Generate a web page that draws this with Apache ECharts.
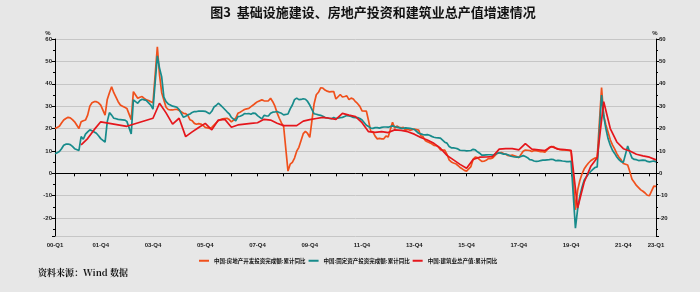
<!DOCTYPE html>
<html>
<head>
<meta charset="utf-8">
<script src="https://cdn.jsdelivr.net/npm/echarts@6/dist/echarts.min.js"></script>
<style>
html,body{margin:0;padding:0;background:#e7e7e7;}
#c{width:700px;height:292px;}
</style>
</head>
<body>
<div id="c"></div>
<script>
// ---- categories: monthly, 2000-03 .. 2023-03 ----
const months = [];
for (let y = 2000; y <= 2023; y++) {
  for (let m = 1; m <= 12; m++) {
    if (y === 2000 && m < 3) continue;
    if (y === 2023 && m > 3) break;
    months.push(y + '-' + String(m).padStart(2, '0'));
  }
}

const seriesNames = ['中国:房地产开发投资完成额:累计同比', '中国:固定资产投资完成额:累计同比', '中国:建筑业总产值:累计同比'];

// 房地产开发投资完成额 累计同比 (%), monthly, Jan merged into Feb (null)
const realEstate = [
  20, 20.5, 21, 22.5, 23.8, 24.5, 25, 24.8, 24, 23,
  null, 20, 23, 23.5, 23.8, 26, 30, 31.5, 32, 32, 31.5, 30.5,
  null, 26, 33, 36, 38.7, 36, 34, 32, 30.5, 30, 29.5, 29,
  null, 24, 36.5, 35, 33.5, 34, 34.3, 33.5, 32.8, 32.5, 32, 31.5,
  null, 56.5, 44, 36, 32.8, 29.5, 28.5, 28.3, 28.3, 28.5, 28.6, 28.1,
  null, 26.8, 26.7, 25.9, 23.9, 23.5, 22.3, 21.9, 22.2, 22, 21.4, 20.5,
  null, 20, 20.5, 21.5, 22.5, 23.5, 24, 24.3, 24.5, 24.6, 24, 23,
  null, 24.6, 26.8, 27.3, 27.9, 28.5, 28.8, 29, 29.8, 30.5, 31.3, 32,
  null, 32.8, 32.4, 32.3, 32.4, 33.5, 32, 30, 27, 24.6, 22.5, 20.9,
  null, 1.0, 4.1, 4.9, 6.8, 9.9, 11.6, 14.7, 17.7, 18.7, 17.8, 16.1,
  null, 31.1, 35.1, 36.2, 38.2, 38.1, 37.2, 36.7, 36.4, 36.5, 36.5, 33.2,
  null, 35.2, 34.1, 34.3, 34.6, 32.9, 33.6, 33.2, 32.0, 31.1, 29.9, 27.9,
  null, 27.8, 23.5, 18.7, 18.5, 16.6, 15.4, 15.6, 15.4, 15.4, 16.7, 16.2,
  null, 22.8, 20.2, 21.1, 20.6, 20.3, 20.5, 19.3, 19.7, 19.2, 19.5, 19.8,
  null, 19.3, 16.8, 16.4, 14.7, 14.1, 13.7, 13.2, 12.5, 12.4, 11.9, 10.5,
  null, 10.4, 8.5, 6.0, 5.1, 4.6, 4.3, 3.5, 2.6, 2.0, 1.3, 1.0,
  null, 3.0, 6.2, 7.2, 7.0, 6.1, 5.3, 5.4, 5.8, 6.6, 6.5, 6.9,
  null, 8.9, 9.1, 9.3, 8.8, 8.5, 7.9, 7.9, 8.1, 7.8, 7.5, 7.0,
  null, 9.9, 10.4, 10.3, 10.2, 9.7, 10.2, 10.1, 9.9, 9.7, 9.7, 9.5,
  null, 11.6, 11.8, 11.9, 11.2, 10.9, 10.6, 10.5, 10.5, 10.3, 10.2, 9.9,
  null, -16.3, -7.7, -3.3, -0.3, 1.9, 3.4, 4.6, 5.6, 6.3, 6.8, 7.0,
  null, 38.3, 25.6, 21.6, 18.3, 15.0, 12.7, 10.9, 8.8, 7.2, 6.0, 4.4,
  null, 3.7, 0.7, -2.7, -4.0, -5.4, -6.4, -7.4, -8.0, -8.8, -9.8, -10.0,
  null, -5.7, -5.8
];

// 固定资产投资完成额 累计同比 (%), monthly
const fixedAsset = [
  8.7, 9.2, 9.7, 11, 12.5, 13, 13.1, 12.8, 12, 11,
  null, 10.2, 16.4, 15.2, 17.5, 18.5, 19.4, 19, 18.5, 17.9, 16.8, 15.5,
  null, 13.9, 23.1, 27.1, 26, 24.6, 24.4, 24.1, 24, 23.9, 23.8, 23.2,
  null, 17.6, 32.8, 32, 31.3, 32.5, 33.1, 32.8, 32.5, 31.5, 30.5, 28.7,
  null, 52.5, 47, 43, 34, 32, 31, 30.5, 30, 29.8, 29.5, 28.5,
  null, 25, 25.5, 26.1, 26.5, 27.2, 27.6, 27.6, 27.8, 27.8, 27.8, 27.7,
  null, 26.6, 27.7, 29.6, 30.3, 31.3, 30.5, 29.5, 28.5, 27.5, 26.6, 25,
  null, 23.4, 25.3, 25.5, 25.9, 26.7, 26.6, 26.7, 26.4, 26.9, 26.8, 25.8,
  null, 24.3, 25.9, 25.7, 25.6, 26.8, 27.3, 27.4, 27.6, 27.2, 26.8, 26.1,
  null, 26.5, 28.8, 30.5, 32.9, 33.6, 32.9, 33.0, 33.3, 33.1, 32.1, 30.5,
  null, 26.6, 26.4, 26.1, 25.9, 25.5, 24.9, 24.8, 24.5, 24.4, 24.9, 24.5,
  null, 24.9, 25.0, 25.4, 25.8, 25.6, 25.4, 25.0, 24.9, 24.9, 24.5, 23.8,
  null, 21.5, 20.9, 20.2, 20.1, 20.4, 20.4, 20.2, 20.5, 20.7, 20.7, 20.6,
  null, 21.2, 20.9, 20.6, 20.4, 20.1, 20.1, 20.3, 20.2, 20.1, 19.9, 19.6,
  null, 17.9, 17.6, 17.3, 17.2, 17.3, 17.0, 16.5, 16.1, 15.9, 15.8, 15.7,
  null, 13.9, 13.5, 12.0, 11.4, 11.4, 11.2, 10.9, 10.3, 10.2, 10.2, 10.0,
  null, 10.2, 10.7, 10.5, 9.6, 9.0, 8.1, 8.1, 8.2, 8.3, 8.3, 8.1,
  null, 8.9, 9.2, 8.9, 8.6, 8.6, 8.3, 7.8, 7.5, 7.3, 7.2, 7.2,
  null, 7.9, 7.5, 7.0, 6.1, 6.0, 5.5, 5.3, 5.4, 5.7, 5.9, 5.9,
  null, 6.1, 6.3, 6.1, 5.6, 5.8, 5.7, 5.5, 5.4, 5.2, 5.2, 5.4,
  null, -24.5, -16.1, -10.3, -6.3, -3.1, -1.6, -0.3, 0.8, 1.8, 2.6, 2.9,
  null, 35.0, 25.6, 19.9, 15.4, 12.6, 10.3, 8.9, 7.3, 6.1, 5.2, 4.9,
  null, 12.2, 9.3, 6.8, 6.2, 6.1, 5.7, 5.8, 5.9, 5.8, 5.3, 5.1,
  null, 5.5, 5.1
];

// 建筑业总产值 累计同比 (%), quarterly (annual early on)
const constructionDates = [
  '2001-03','2001-06','2001-09','2001-12','2002-12','2003-12',
  '2004-03','2004-06','2004-09','2004-12','2005-03','2005-06','2005-09','2005-12',
  '2006-03','2006-06','2006-09','2006-12','2007-03','2007-06','2007-09','2007-12',
  '2008-03','2008-06','2008-09','2008-12','2009-03','2009-06','2009-09','2009-12',
  '2010-03','2010-06','2010-09','2010-12','2011-03','2011-06','2011-09','2011-12',
  '2012-03','2012-06','2012-09','2012-12','2013-03','2013-06','2013-09','2013-12',
  '2014-03','2014-06','2014-09','2014-12','2015-03','2015-06','2015-09','2015-12',
  '2016-03','2016-06','2016-09','2016-12','2017-03','2017-06','2017-09','2017-12',
  '2018-03','2018-06','2018-09','2018-12','2019-03','2019-06','2019-09','2019-12',
  '2020-03','2020-06','2020-09','2020-12','2021-03','2021-06','2021-09','2021-12',
  '2022-03','2022-06','2022-09','2022-12','2023-03'
];
const constructionValues = [
  12.7, 15.5, 19.5, 23, 21, 24.6,
  31.3, 27, 22, 24.6, 16.4, 18.5, 20.5, 22.3,
  19.4, 23.8, 24.1, 20.6, 21.6, 22, 22.3, 22.6,
  24.1, 23.8, 22.4, 21.3, 21.3, 21.3, 23.3, 24,
  24.5, 25, 24.6, 24.1, 26.8, 26, 25.3, 22.6,
  18.6, 18.3, 18.6, 18.2, 19.4, 19.2, 18.6, 17.5,
  16, 14.9, 13.4, 11.2, 8, 6, 4, 2.3,
  6.2, 7.2, 7.3, 7.5, 10.8, 11, 11, 10.5,
  13.3, 10.8, 10.5, 10.2, 12, 10.8, 10.6, 10.3,
  -15.5, -4, 3, 7, 32, 20, 14, 11,
  10, 8.5, 7.8, 7.2, 6
];

const yMin = -28, yMax = 60;

function isTick(i, v) {
  return i === 0 || i === months.length - 1 || v.slice(5) === '12';
}
function isLabel(i, v) {
  if (i === 0 || i === months.length - 1) return true;
  const y = +v.slice(0, 4);
  return v.slice(5) === '12' && y % 2 === 1;
}
function fmtLabel(v) {
  const y = v.slice(2, 4);
  const q = Math.ceil(+v.slice(5) / 3);
  return y + '-Q' + q;
}

const axisFont = {fontSize: 6, fontWeight: 'bold', color: '#222', fontFamily: 'Liberation Sans'};

const yCommon = {
  type: 'value', min: yMin, max: yMax, splitNumber: 9,
  axisLine: {show: true, lineStyle: {color: '#000', width: 1}},
  axisTick: {show: true, length: 3, lineStyle: {color: '#000', width: 1}},
  minorTick: {show: true, splitNumber: 2, length: 2, lineStyle: {color: '#000', width: 1}},
  axisLabel: Object.assign({margin: 3, showMinLabel: false}, axisFont)
};

const chart = echarts.init(document.getElementById('c'), null, {renderer: 'canvas'});
chart.setOption({
  backgroundColor: '#e7e7e7',
  animation: false,
  grid: {left: 55, right: 44, top: 39, bottom: 56},
  legend: {
    left: 194, top: 253, itemWidth: 10, itemHeight: 2, itemGap: 3, icon: 'rect',
    textStyle: {fontSize: 5.5, fontWeight: 'bold', color: '#111', fontFamily: 'Noto Sans CJK SC'},
    data: seriesNames
  },
  xAxis: {
    type: 'category', data: months, boundaryGap: false,
    axisLine: {lineStyle: {color: '#000', width: 1}},
    axisTick: {interval: isTick, length: 3, lineStyle: {color: '#000'}},
    axisLabel: Object.assign({interval: isLabel, formatter: fmtLabel, margin: 6}, axisFont),
    splitLine: {show: false}
  },
  yAxis: [
    Object.assign({}, yCommon, {position: 'left', splitLine: {show: true, lineStyle: {color: '#c6c6c6', width: 1}}}),
    Object.assign({}, yCommon, {position: 'right', splitLine: {show: false}})
  ],
  series: [
    {name: seriesNames[0], type: 'line', data: realEstate, symbol: 'none', connectNulls: true,
     lineStyle: {color: '#f0501c', width: 1.7}, itemStyle: {color: '#f0501c'}},
    {name: seriesNames[1], type: 'line', data: fixedAsset, symbol: 'none', connectNulls: true,
     lineStyle: {color: '#178b8b', width: 1.7}, itemStyle: {color: '#178b8b'}},
    {name: seriesNames[2], type: 'line', data: constructionDates.map((d, k) => [d, constructionValues[k]]),
     symbol: 'none', connectNulls: true,
     lineStyle: {color: '#e5161c', width: 1.7}, itemStyle: {color: '#e5161c'}}
  ],
  graphic: [
    {type: 'text', x: 373, y: 12, style: {text: '图3  基础设施建设、房地产投资和建筑业总产值增速情况', fontSize: 13, fontWeight: 'bold', fill: '#111', fontFamily: 'Noto Sans CJK SC', textAlign: 'center', textVerticalAlign: 'middle'}},
    {type: 'text', x: 48, y: 33, style: {text: '%', fontSize: 6, fontWeight: 'bold', fill: '#222', fontFamily: 'Liberation Sans', textAlign: 'center', textVerticalAlign: 'middle'}},
    {type: 'text', x: 655, y: 33, style: {text: '%', fontSize: 6, fontWeight: 'bold', fill: '#222', fontFamily: 'Liberation Sans', textAlign: 'center', textVerticalAlign: 'middle'}},
    {type: 'text', x: 38, y: 273, style: {text: '资料来源：Wind 数据', fontSize: 9, fontWeight: 'bold', fill: '#111', fontFamily: 'Noto Serif CJK SC, Noto Sans CJK SC', textAlign: 'left', textVerticalAlign: 'middle'}}
  ]
});
</script>
</body>
</html>
